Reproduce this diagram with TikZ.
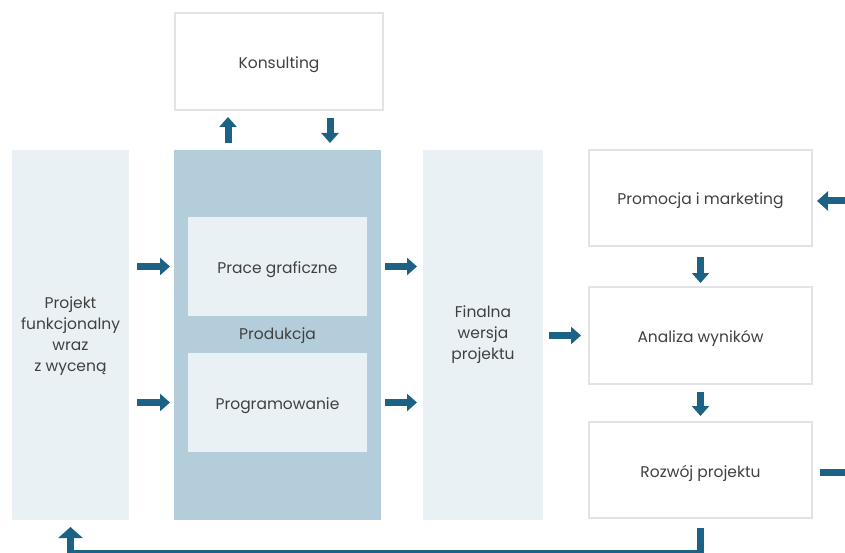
\documentclass[tikz,border=0pt]{standalone}
\usepackage{fontspec}
\setmainfont{Poppins}
\usetikzlibrary{arrows.meta}
\definecolor{arrblue}{HTML}{1B6284}
\definecolor{pale}{HTML}{E9F1F5}
\definecolor{mid}{HTML}{B3CEDA}
\definecolor{edge}{HTML}{E3E3E3}
\definecolor{txt}{HTML}{404040}
\begin{document}
\begin{tikzpicture}[x=1pt,y=-1pt,
  every node/.style={inner sep=0pt, outer sep=0pt, text=txt, font=\fontsize{15.5}{21}\selectfont},
  lbl/.style={yshift=-3pt},
  whitebox/.style={draw=edge, line width=1.3pt, fill=white, anchor=north west},
  palecol/.style={fill=pale, anchor=north west},
  midcol/.style={fill=mid, anchor=north west},
  arr/.style={draw=arrblue, line width=7pt, -{Triangle[width=17pt,length=10pt]}},
  loopline/.style={draw=arrblue, line width=7pt, line join=miter}
]
\useasboundingbox (0,0) rectangle (845,553);
\fill[white] (0,0) rectangle (845,553);

% columns
\node[palecol, minimum width=117pt, minimum height=370pt] (projekt) at (12,150) {};
\node[midcol, minimum width=207pt, minimum height=370pt] (produkcja) at (174,150) {};
\node[palecol, minimum width=120pt, minimum height=370pt] (finalna) at (423,150) {};
\node[palecol, minimum width=179pt, minimum height=99pt] (prace) at (188,217) {};
\node[palecol, minimum width=179pt, minimum height=99pt] (prog) at (188,353) {};

% white boxes
\node[whitebox, minimum width=208pt, minimum height=97pt] (konsulting) at (175,13) {};
\node[whitebox, minimum width=223pt, minimum height=96pt] (promocja) at (589,150) {};
\node[whitebox, minimum width=223pt, minimum height=97pt] (analiza) at (589,287) {};
\node[whitebox, minimum width=223pt, minimum height=96pt] (rozwoj) at (589,422) {};

% labels
\node[lbl] (tkons) at (konsulting.center) {Konsulting};
\node[lbl] (tprom) at (promocja.center) {Promocja i marketing};
\node[lbl] (tanal) at (analiza.center) {Analiza wyników};
\node[lbl] (troz) at (rozwoj.center) {Rozwój projektu};
\node[lbl] (tprace) at (prace.center) {Prace graficzne};
\node[lbl] (tprog) at (prog.center) {Programowanie};
\node[lbl] (tprod) at (277.5,333) {Produkcja};
\node[align=center, yshift=-1pt] (tproj) at (projekt.center) {Projekt\\funkcjonalny\\wraz\\z wyceną};
\node[align=center] (tfin) at (finalna.center) {Finalna\\wersja\\projektu};

% short arrows
\draw[arr, shorten <=8pt, shorten >=4pt] (projekt.east |- prace) -- (produkcja.west |- prace);
\draw[arr, shorten <=8pt, shorten >=4pt] (projekt.east |- prog) -- (produkcja.west |- prog);
\draw[arr, shorten <=4pt, shorten >=6pt] (produkcja.east |- prace) -- (finalna.west |- prace);
\draw[arr, shorten <=4pt, shorten >=6pt] (produkcja.east |- prog) -- (finalna.west |- prog);
\draw[arr, shorten <=6pt, shorten >=8pt] (finalna.east |- analiza) -- (analiza.west);
\coordinate (cu) at (228,0);
\coordinate (cd) at (330,0);
\draw[arr, shorten <=7pt, shorten >=7pt] (produkcja.north -| cu) -- (konsulting.south -| cu);
\draw[arr, shorten <=8pt, shorten >=7pt] (konsulting.south -| cd) -- (produkcja.north -| cd);
\draw[arr, shorten <=11pt, shorten >=4pt] (promocja.south) -- (analiza.north);
\draw[arr, shorten <=8pt, shorten >=6pt] (analiza.south) -- (rozwoj.north);

% loops
\coordinate (bl) at (0,553.5);
\coordinate (rr) at (849,0);
\coordinate (rlow) at (0,472);
\coordinate (rhigh) at (0,201);
\draw[loopline, shorten <=10pt] (rozwoj.south) -- (rozwoj.south |- bl) -- (projekt.south |- bl);
\draw[arr, -{Triangle[width=24pt,length=11pt]}, shorten >=7pt] (projekt.south |- bl) -- (projekt.south);
\draw[loopline, shorten <=8pt] (rozwoj.east |- rlow) -- (rr |- rlow) -- (rr |- rhigh);
\draw[arr, -{Triangle[width=19pt,length=11pt]}, shorten >=5pt] (rr |- rhigh) -- (promocja.east |- rhigh);
\end{tikzpicture}
\end{document}
